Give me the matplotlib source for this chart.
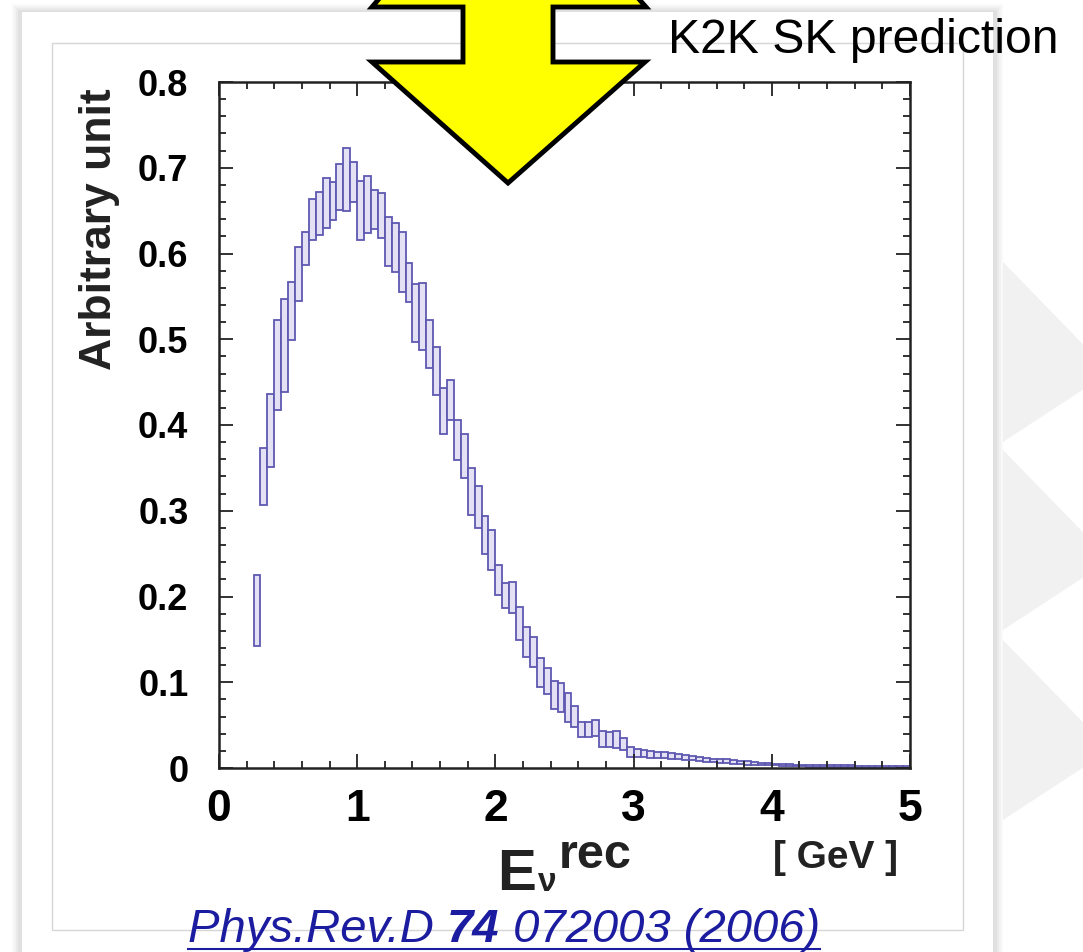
import numpy as np
import matplotlib
matplotlib.use("Agg")
import matplotlib.pyplot as plt
from matplotlib.patches import Polygon, Rectangle
from matplotlib.lines import Line2D
from matplotlib.ticker import MultipleLocator

plt.rcParams['font.family'] = ['Liberation Sans', 'DejaVu Sans']

W, H = 1083, 952

# binning of the reconstructed neutrino energy [GeV]
bin_width = 0.05
bin_edges = np.arange(0.25, 5.0 + 1e-9, bin_width)

# upper / lower edge of each error box (arbitrary unit)
box_hi = [
    0.225, 0.373, 0.436, 0.523, 0.547, 0.567, 0.608, 0.625, 0.663, 0.672,
    0.688, 0.683, 0.704, 0.723, 0.707, 0.684, 0.690, 0.674, 0.671, 0.643,
    0.636, 0.625, 0.589, 0.564, 0.566, 0.523, 0.491, 0.443, 0.453, 0.406,
    0.389, 0.350, 0.329, 0.294, 0.278, 0.237, 0.216, 0.217, 0.188, 0.165,
    0.153, 0.128, 0.117, 0.102, 0.099, 0.088, 0.072, 0.054, 0.054, 0.056,
    0.043, 0.042, 0.043, 0.035, 0.025, 0.022, 0.021, 0.020, 0.019, 0.019,
    0.017, 0.016, 0.015, 0.014, 0.013, 0.012, 0.011, 0.010, 0.010, 0.009,
    0.008, 0.008, 0.007, 0.006, 0.006, 0.005, 0.005, 0.005, 0.004, 0.004,
    0.004, 0.004, 0.003, 0.003, 0.003, 0.003, 0.003, 0.002, 0.002, 0.002,
    0.002, 0.002, 0.002, 0.002, 0.002]
box_lo = [
    0.142, 0.307, 0.351, 0.417, 0.439, 0.499, 0.545, 0.587, 0.616, 0.622,
    0.630, 0.639, 0.651, 0.649, 0.660, 0.616, 0.624, 0.628, 0.618, 0.585,
    0.579, 0.555, 0.544, 0.497, 0.488, 0.467, 0.435, 0.389, 0.406, 0.359,
    0.338, 0.295, 0.280, 0.249, 0.231, 0.202, 0.187, 0.181, 0.149, 0.130,
    0.118, 0.095, 0.086, 0.069, 0.065, 0.054, 0.048, 0.036, 0.036, 0.037,
    0.025, 0.025, 0.023, 0.021, 0.013, 0.013, 0.013, 0.012, 0.012, 0.012,
    0.011, 0.010, 0.009, 0.009, 0.008, 0.007, 0.007, 0.006, 0.006, 0.005,
    0.005, 0.004, 0.004, 0.003, 0.003, 0.003, 0.002, 0.002, 0.002, 0.002,
    0.001, 0.001, 0.001, 0.001, 0.001, 0.001, 0.001, 0.0005, 0.0005, 0.0005,
    0.0005, 0.0005, 0.0005, 0.0005, 0.0005]

x_ticks = [0, 1, 2, 3, 4, 5]
y_ticks = [0, 0.1, 0.2, 0.3, 0.4, 0.5, 0.6, 0.7, 0.8]


def fx(px):
    return px / W


def fy(py):
    return 1 - py / H


fig = plt.figure(figsize=(W / 100, H / 100), dpi=100)
fig.patch.set_facecolor('white')

# slide card with soft shadow
for i, a in enumerate([0.05, 0.07, 0.09, 0.12]):
    d = 8 - 2 * i
    fig.add_artist(Rectangle((fx(20 - d), 0), fx(975 + 2 * d), fy(12 - d),
                             transform=fig.transFigure, color='#9a9a9a',
                             alpha=a, lw=0, zorder=-5))
fig.add_artist(Rectangle((fx(22), 0), fx(971), fy(12), transform=fig.transFigure,
                         color='white', lw=0, zorder=-4))
fig.add_artist(Rectangle((fx(52), fy(930)), fx(911), fy(43) - fy(930),
                         transform=fig.transFigure, fill=False,
                         edgecolor='#d6d6d6', lw=1, zorder=-3))

# faint chevrons on the right
for y0 in [262, 450, 640]:
    fig.add_artist(Polygon([(fx(1003), fy(y0)), (fx(1110), fy(y0 + 110)),
                            (fx(1003), fy(y0 + 180))], closed=True,
                           transform=fig.transFigure, color='#f1f1f1',
                           lw=0, zorder=-6))

ax = fig.add_axes([fx(219), fy(768), fx(910) - fx(219), fy(82) - fy(768)])
ax.set_facecolor('none')

centres = bin_edges[:-1] + bin_width / 2
lo = np.array(box_lo)
hi = np.array(box_hi)
ax.bar(centres, hi - lo, bottom=lo, width=bin_width, align='center',
       facecolor='#e3e1f3', edgecolor='#5f58b2', linewidth=1.3)

ax.set_xlim(0, 5)
ax.set_ylim(0, 0.8)
ax.set_xticks(x_ticks)
ax.set_yticks(y_ticks)
ax.set_xticklabels([str(v) for v in x_ticks])
ax.set_yticklabels(['0' if v == 0 else f'{v:.1f}' for v in y_ticks])
ax.xaxis.set_minor_locator(MultipleLocator(0.2))
ax.yaxis.set_minor_locator(MultipleLocator(0.02))
ax.tick_params(which='both', direction='in', top=True, right=True,
               width=1.3, color='#222222')
ax.tick_params(which='major', length=10)
ax.tick_params(which='minor', length=5)
ax.tick_params(axis='x', which='major', pad=15, labelsize=32)
ax.tick_params(axis='y', which='major', pad=22, labelsize=26)
for lab in ax.get_xticklabels() + ax.get_yticklabels():
    lab.set_fontweight('bold')
for s in ax.spines.values():
    s.set_linewidth(1.8)
    s.set_color('#222222')

# axis titles
fig.text(fx(100), fy(229), 'Arbitrary unit', rotation=90, ha='center',
         va='center', fontsize=32, fontweight='bold', color='#222222')
fig.text(fx(497), fy(890), 'E', ha='left', va='baseline', fontsize=42,
         fontweight='bold', color='#222222')
fig.text(fx(538), fy(891), 'ν', ha='left', va='baseline', fontsize=24,
         fontweight='bold', color='#222222')
fig.text(fx(559), fy(868), 'rec', ha='left', va='baseline', fontsize=35,
         fontweight='bold', color='#222222')
fig.text(fx(773), fy(868), '[ GeV ]', ha='left', va='baseline', fontsize=28,
         fontweight='bold', color='#222222')

# yellow arrow
arrow = [(395, -20), (372, 7), (463, 7), (463, 62), (372, 62), (508, 183),
         (645, 62), (553, 62), (553, 7), (646, 7), (622, -20)]
fig.add_artist(Polygon([(fx(x), fy(y)) for x, y in arrow], closed=True,
                       transform=fig.transFigure, facecolor='#ffff00',
                       edgecolor='black', lw=3.5, joinstyle='miter', zorder=10))

fig.text(fx(668), fy(53), 'K2K SK prediction', ha='left', va='baseline',
         fontsize=34.7, color='black', zorder=11)

# citation, underlined
fig.canvas.draw()
renderer = fig.canvas.get_renderer()
cite_col = '#1c1ca0'
parts = [('Phys.Rev.D ', 'normal'), ('74', 'bold'), (' 072003 (2006)', 'normal')]
x0 = fx(188)
start = x0
for txt, wt in parts:
    t = fig.text(x0, fy(942), txt, ha='left', va='baseline', fontsize=34,
                 style='italic', fontweight=wt, color=cite_col)
    bb = t.get_window_extent(renderer)
    x0 = bb.x1 / fig.bbox.width
fig.add_artist(Line2D([start, x0], [fy(949), fy(949)], transform=fig.transFigure,
                      color=cite_col, lw=1.5))

fig.savefig('out.png', dpi=100)
